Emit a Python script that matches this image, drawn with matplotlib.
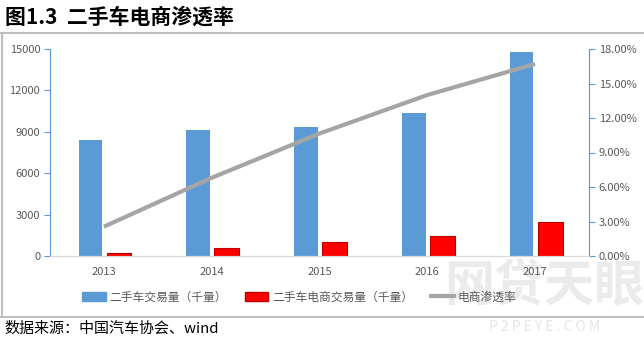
import matplotlib.pyplot as plt
import numpy as np
from matplotlib.lines import Line2D
from matplotlib.patches import Patch

plt.rcParams['font.family'] = ['Noto Sans CJK SC', 'DejaVu Sans']

# data
years = ['2013', '2014', '2015', '2016', '2017']
used_car = [8400, 9130, 9350, 10360, 14780]       # 二手车交易量（千量）
ecommerce = [220, 580, 1010, 1450, 2460]           # 二手车电商交易量（千量）
penetration = [2.55, 6.8, 10.65, 14.0, 16.7]       # 电商渗透率 (%)

W, H = 644, 341
fig = plt.figure(figsize=(W / 100, H / 100), dpi=100)

# watermark (behind everything)
fig.text(0.845, 1 - 287 / H, '网贷天眼', fontsize=36, color='#EBEBEB',
         fontweight='bold', ha='center', va='center', zorder=-5)
fig.text(0.845, 1 - 327 / H, 'P 2 P E Y E . C O M', fontsize=10, color='#E6E6E6',
         ha='center', va='center', zorder=-5)

ax = fig.add_axes([50 / W, 1 - 256 / H, 539 / W, 207 / H])
ax2 = ax.twinx()
ax.patch.set_alpha(0)
ax2.patch.set_alpha(0)

x = np.arange(len(years))
ax.bar(x - 0.125, used_car, width=0.22, color='#5B9BD5', zorder=2)
ax.bar(x + 0.14, ecommerce, width=0.23, color='#FF0000', edgecolor='#C00000',
       linewidth=0.8, zorder=2)
ax2.plot(x, penetration, color='#A5A5A5', linewidth=3, solid_capstyle='butt')

ax.set_xlim(-0.5, 4.5)
ax.set_ylim(0, 15000)
ax2.set_ylim(0, 18)
ax.set_yticks(range(0, 15001, 3000))
ax2.set_yticks(range(0, 19, 3))
ax2.set_yticklabels([f'{v:.2f}%' for v in range(0, 19, 3)])
ax.set_xticks(x)
ax.set_xticklabels(years)

for a in (ax, ax2):
    a.spines['top'].set_visible(False)
    a.spines['bottom'].set_color('#D9D9D9')
    a.tick_params(labelsize=8, colors='#595959', length=4)
    a.tick_params(axis='y', color='#5B9BD5')
ax.spines['left'].set_color('#5B9BD5')
ax.spines['right'].set_visible(False)
ax2.spines['left'].set_visible(False)
ax2.spines['right'].set_color('#5B9BD5')
ax.tick_params(axis='x', length=0, pad=8)
ax.tick_params(axis='y', pad=3)
ax2.tick_params(axis='y', pad=3)

handles = [Patch(color='#5B9BD5'),
           Patch(facecolor='#FF0000', edgecolor='#C00000'),
           Line2D([], [], color='#A5A5A5', linewidth=3)]
labels = ['二手车交易量（千量）', '二手车电商交易量（千量）', '电商渗透率']
fig.legend(handles, labels, loc='center', bbox_to_anchor=(0.465, 1 - 297 / H),
           ncol=3, frameon=False, fontsize=8.5, columnspacing=1.5,
           handlelength=2.0, handleheight=0.75, handletextpad=0.3,
           labelcolor='#595959')

# title, footer and frame lines
fig.text(5 / W, 1 - 17 / H, '图1.3  二手车电商渗透率', fontsize=15,
         fontweight='bold', va='center', ha='left')
fig.add_artist(Line2D([0, 1], [1 - 33 / H] * 2, color='#BFBFBF', linewidth=1.5))
fig.add_artist(Line2D([0, 1], [1 - 317 / H] * 2, color='#BFBFBF', linewidth=1.5))
fig.add_artist(Line2D([1.5 / W] * 2, [1 - 317 / H, 1 - 33 / H], color='#BFBFBF', linewidth=1.5))
fig.text(4 / W, 1 - 329 / H, '数据来源：中国汽车协会、wind', fontsize=10.8,
         va='center', ha='left')

fig.savefig('out.png', dpi=100)
